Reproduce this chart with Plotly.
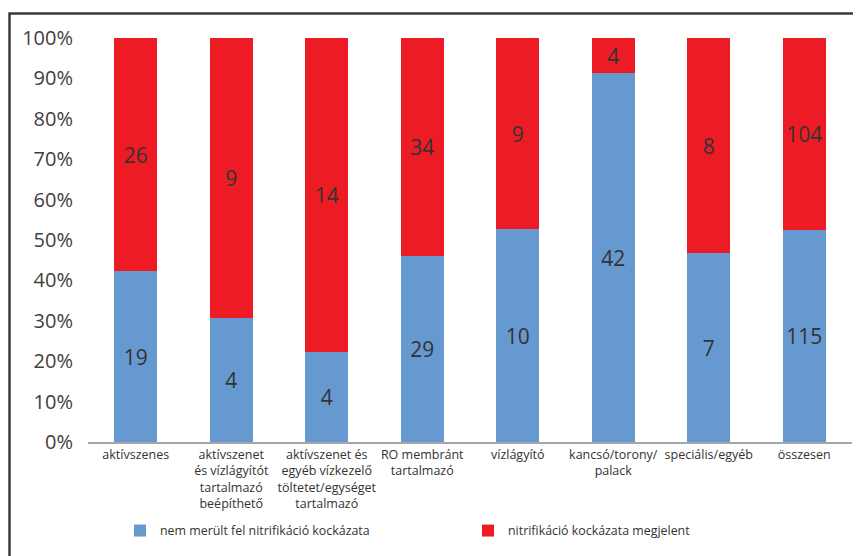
import plotly.graph_objects as go

categories = [
    "aktívszenes",
    "aktívszenet<br>és vízlágyítót<br>tartalmazó<br>beépíthető",
    "aktívszenet és<br>egyéb vízkezelő<br>töltetet/egységet<br>tartalmazó",
    "RO membránt<br>tartalmazó",
    "vízlágyító",
    "kancsó/torony/<br>palack",
    "speciális/egyéb",
    "összesen",
]
no_risk = [19, 4, 4, 29, 10, 42, 7, 115]
risk = [26, 9, 14, 34, 9, 4, 8, 104]
name_no_risk = "nem merült fel nitrifikáció kockázata"
name_risk = "nitrifikáció kockázata megjelent"

totals = [a + b for a, b in zip(no_risk, risk)]
share_no = [a / t for a, t in zip(no_risk, totals)]
share_risk = [b / t for b, t in zip(risk, totals)]

# page body has an 8px margin, so the figure is laid out 8px smaller
OFF = 8
W, H = 861 - OFF, 556 - OFF
L, T = 88 - OFF, 38 - OFF
R, B = W - (852 - OFF), H - (442 - OFF)
pw, ph = W - L - R, H - T - B

def px_x(sx):
    return (sx - OFF - L) / pw

def px_y(sy):
    return ((442 - OFF) - (sy - OFF)) / ph

lab_font = dict(family="Open Sans, Noto Sans, sans-serif", size=21, color="#333333")

fig = go.Figure()
fig.add_trace(go.Bar(
    x=categories, y=share_no, name=name_no_risk,
    marker=dict(color="#6699CF", line=dict(width=0)),
    customdata=no_risk, texttemplate="%{customdata}",
    textposition="inside", insidetextanchor="middle", textangle=0,
    insidetextfont=lab_font, hoverinfo="skip",
))
fig.add_trace(go.Bar(
    x=categories, y=share_risk, name=name_risk,
    marker=dict(color="#ED1C24", line=dict(width=0)),
    customdata=risk, texttemplate="%{customdata}",
    textposition="inside", insidetextanchor="middle", textangle=0,
    insidetextfont=lab_font, hoverinfo="skip",
))

fig.update_layout(
    width=W, height=H,
    margin=dict(l=L, r=R, t=T, b=B, pad=0, autoexpand=False),
    barmode="stack", bargap=0.55,
    uniformtext=dict(mode=False),
    plot_bgcolor="white", paper_bgcolor="white",
    font=dict(family="Open Sans, Noto Sans, sans-serif", color="#333333"),
    showlegend=True,
    legend=dict(
        orientation="h", x=px_x(120), xanchor="left",
        y=px_y(531), yanchor="middle",
        font=dict(size=12.4, color="#333333"),
        entrywidth=303, entrywidthmode="pixels",
        traceorder="normal", bgcolor="rgba(0,0,0,0)",
    ),
    xaxis=dict(
        showgrid=False, showline=True, linecolor="#A6A6A6", linewidth=2,
        ticks="", tickfont=dict(size=12.5, color="#333333",
                                family="Open Sans, Noto Sans, sans-serif"),
        tickangle=0, fixedrange=True, automargin=False,
    ),
    yaxis=dict(
        range=[0, 1], dtick=0.1, tickformat=".0%",
        showgrid=False, zeroline=False, showline=False, ticks="",
        ticklen=0, tickfont=dict(size=20, color="#404040"),
        fixedrange=True, automargin=False,
    ),
)
fig.update_yaxes(ticklabelstandoff=14)

fig.add_shape(
    type="rect", xref="paper", yref="paper",
    x0=px_x(9.5), x1=px_x(880),
    y0=px_y(600), y1=px_y(13.5),
    line=dict(color="#3A3A3A", width=2.5), fillcolor="rgba(0,0,0,0)",
    layer="below",
)

fig.write_html("out.html")
